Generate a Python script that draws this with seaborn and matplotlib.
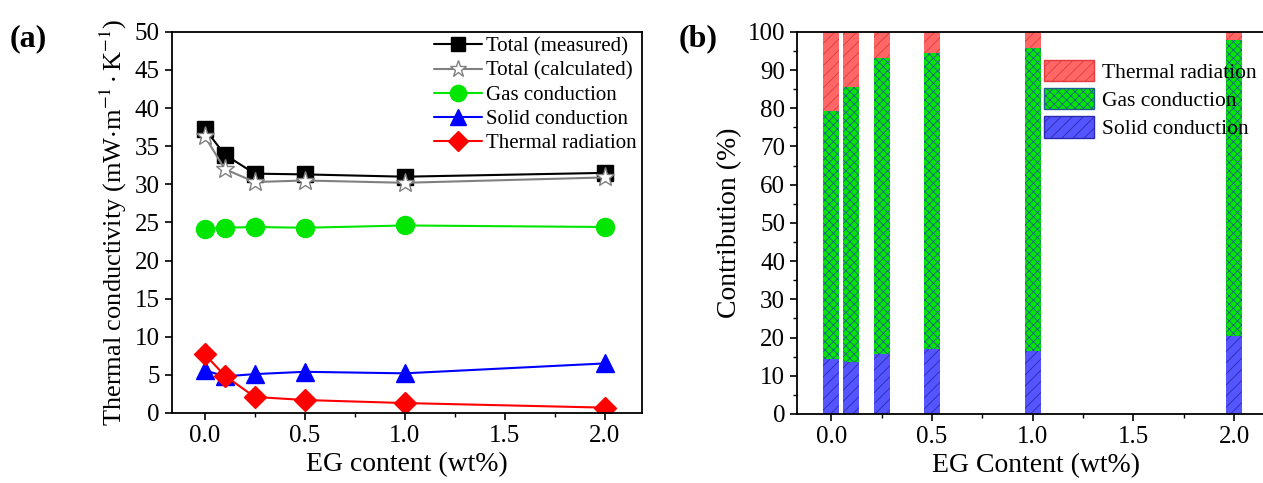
import matplotlib.pyplot as plt
import pandas as pd
import seaborn as sns
from matplotlib.patches import Patch
from matplotlib.ticker import MultipleLocator

sns.set_theme(style='ticks')
plt.rcParams['font.family'] = ['Liberation Serif', 'DejaVu Serif']
plt.rcParams['mathtext.fontset'] = 'stix'
plt.rcParams['hatch.linewidth'] = 0.6
for k in ['text.color', 'axes.labelcolor', 'xtick.color', 'ytick.color', 'axes.edgecolor']:
    plt.rcParams[k] = 'black'

# EG content (wt%)
eg = [0.0, 0.1, 0.25, 0.5, 1.0, 2.0]

# panel (a): thermal conductivity, mW/(m K)
total_measured = [37.3, 33.9, 31.4, 31.3, 31.0, 31.5]
total_calculated = [36.3, 32.0, 30.3, 30.5, 30.2, 30.9]
gas_cond = [24.2, 24.3, 24.4, 24.3, 24.6, 24.4]
solid_cond = [5.6, 4.8, 5.1, 5.4, 5.2, 6.5]
thermal_rad = [7.7, 4.9, 2.1, 1.7, 1.3, 0.7]

# panel (b): contribution (%)
solid_pct = [14.4, 13.7, 15.7, 17.0, 16.6, 20.3]
gas_pct = [64.8, 71.8, 77.5, 77.6, 79.1, 77.5]
rad_pct = [100 - s - g for s, g in zip(solid_pct, gas_pct)]

fig = plt.figure(figsize=(12.63, 4.83), dpi=100)
ax1 = fig.add_axes([0.136, 0.145, 0.372, 0.789])
ax2 = fig.add_axes([0.631, 0.143, 0.378, 0.791])

# ---- (a) line chart
series = [
    ('Total (measured)', total_measured, 'black', 's', 'black', 11),
    ('Total (calculated)', total_calculated, 'gray', '*', 'white', 14),
    ('Gas conduction', gas_cond, '#00e600', 'o', '#00e600', 13),
    ('Solid conduction', solid_cond, '#0000ff', '^', '#0000ff', 13),
    ('Thermal radiation', thermal_rad, '#ff0000', 'D', '#ff0000', 11),
]
for name, vals, col, mk, fc, ms in series:
    sns.lineplot(x=eg, y=vals, ax=ax1, color=col, marker=mk, markersize=ms,
                 markerfacecolor=fc, markeredgecolor=col, markeredgewidth=1.0,
                 linewidth=1.5, label=name)

ax1.set_xlim(-0.165, 2.185)
ax1.set_ylim(0, 50)
ax1.xaxis.set_major_locator(MultipleLocator(0.5))
ax1.xaxis.set_minor_locator(MultipleLocator(0.25))
ax1.yaxis.set_major_locator(MultipleLocator(5))
ax1.set_xlabel('EG content (wt%)', fontsize=20)
ax1.set_ylabel(r'Thermal conductivity (mW$\cdot$m$^{-1}\cdot$K$^{-1}$)', fontsize=19)
ax1.tick_params(labelsize=18, direction='out', width=1.2, length=5)
ax1.tick_params(which='minor', direction='out', width=1.0, length=3)
for s in ax1.spines.values():
    s.set_linewidth(1.3)
leg1 = ax1.legend(loc='upper right', frameon=False, fontsize=15, handlelength=2.3,
                  handletextpad=0.2, labelspacing=0.22, borderaxespad=0,
                  borderpad=0.25, bbox_to_anchor=(1.0, 1.0))
for h in leg1.legend_handles:
    h.set_markersize(h.get_markersize() * 0.9)

# ---- (b) stacked contribution bars
top_gas = [s + g for s, g in zip(solid_pct, gas_pct)]
top_all = [s + g + r for s, g, r in zip(solid_pct, gas_pct, rad_pct)]
layers = [
    (top_all, '#ff6666', '#e03c3c', '///'),
    (top_gas, '#00e600', '#1f5f8f', 'xxxx'),
    (solid_pct, '#5555ff', '#2a2ab0', '///'),
]
for vals, fc, hc, hatch in layers:
    n0 = len(ax2.patches)
    sns.barplot(x=eg, y=vals, ax=ax2, native_scale=True, width=0.8,
                color=fc, saturation=1, linewidth=0)
    for p in ax2.patches[n0:]:
        p.set_hatch(hatch)
        p.set_edgecolor(hc)
        p.set_facecolor(fc)

ax2.set_xlim(-0.17, 2.2)
ax2.set_ylim(0, 100)
ax2.yaxis.set_major_locator(MultipleLocator(10))
ax2.yaxis.set_minor_locator(MultipleLocator(5))
ax2.set_xticks([0, 0.5, 1.0, 1.5, 2.0])
ax2.set_xticklabels(['0.0', '0.5', '1.0', '1.5', '2.0'])
ax2.xaxis.set_minor_locator(MultipleLocator(0.25))
ax2.set_xlabel('EG Content (wt%)', fontsize=20)
ax2.set_ylabel('Contribution (%)', fontsize=20)
ax2.tick_params(labelsize=18, direction='out', width=1.2, length=5)
ax2.tick_params(which='minor', direction='out', width=1.0, length=3)
for s in ax2.spines.values():
    s.set_linewidth(1.3)

handles = [
    Patch(facecolor='#ff6666', edgecolor='#e03c3c', hatch='///', label='Thermal radiation'),
    Patch(facecolor='#00e600', edgecolor='#1f5f8f', hatch='xxxx', label='Gas conduction'),
    Patch(facecolor='#5555ff', edgecolor='#2a2ab0', hatch='///', label='Solid conduction'),
]
ax2.legend(handles=handles, loc='upper left', bbox_to_anchor=(0.5, 0.95),
           frameon=False, fontsize=15.5, handlelength=2.3, handleheight=1.15,
           handletextpad=0.4, labelspacing=0.25, borderaxespad=0)

fig.text(0.008, 0.905, '(a)', fontsize=23, fontweight='bold')
fig.text(0.537, 0.905, '(b)', fontsize=23, fontweight='bold')

fig.savefig('out.png', dpi=100)
